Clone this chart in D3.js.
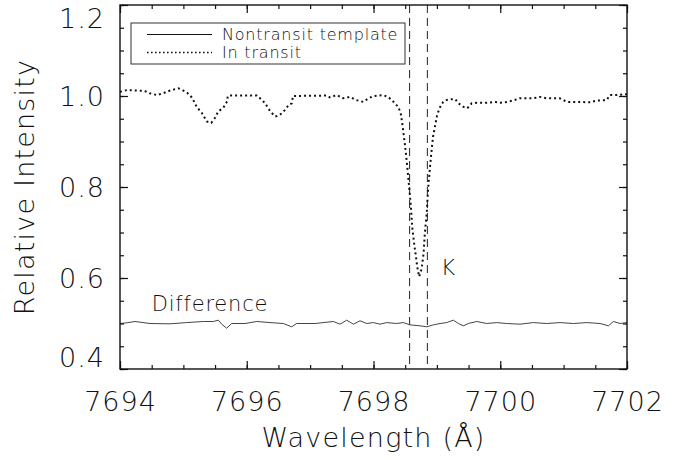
<!DOCTYPE html>
<html>
<head>
<meta charset="utf-8">
<script src="https://cdn.jsdelivr.net/npm/d3@7"></script>
<style>
  body { margin: 0; background: #fff; }
  text { font-family: 'DejaVu Sans', 'Inter', sans-serif; font-weight: 200; fill: #111; }
</style>
</head>
<body>
<div class="chart"></div>
<script>
var w = 685,
  h = 460,
  margin = { left: 120, right: 58, top: 5, bottom: 91 };

// in-transit spectrum
var transitWave = [7694.00, 7694.11, 7694.26, 7694.39, 7694.47, 7694.58, 7694.68, 7694.79, 7694.92, 7695.00,
  7695.06, 7695.14, 7695.21, 7695.29, 7695.37, 7695.44, 7695.50, 7695.55, 7695.63, 7695.69,
  7695.70, 7695.74, 7696.00, 7696.16, 7696.21, 7696.29, 7696.37, 7696.45, 7696.52, 7696.60,
  7696.66, 7696.71, 7696.73, 7697.27, 7697.31, 7697.42, 7697.52, 7697.63, 7697.73, 7697.84,
  7697.92, 7698.00, 7698.15, 7698.23, 7698.29, 7698.39, 7698.43, 7698.46, 7698.48, 7698.50,
  7698.53, 7698.56, 7698.59, 7698.61, 7698.64, 7698.67, 7698.69, 7698.72, 7698.76, 7698.79,
  7698.81, 7698.84, 7698.86, 7698.89, 7698.92, 7698.94, 7698.97, 7699.00, 7699.04, 7699.10,
  7699.15, 7699.23, 7699.29, 7699.34, 7699.42, 7699.48, 7699.55, 7699.63, 7699.79, 7699.92,
  7700.00, 7700.10, 7700.20, 7700.31, 7700.52, 7700.63, 7700.73, 7700.94, 7701.05, 7701.26,
  7701.42, 7701.52, 7701.68, 7701.73, 7701.84, 7701.97, 7702.00];
var transitFlux = [1.009, 1.013, 1.012, 1.011, 1.006, 1.002, 1.006, 1.012, 1.017, 1.012,
  1.007, 0.996, 0.976, 0.963, 0.944, 0.941, 0.952, 0.966, 0.974, 0.988,
  1.000, 1.001, 1.001, 1.001, 0.995, 0.984, 0.966, 0.955, 0.958, 0.969,
  0.980, 0.984, 1.000, 1.001, 0.997, 1.002, 0.995, 0.998, 0.991, 0.987,
  0.995, 1.000, 1.002, 0.998, 0.991, 0.976, 0.962, 0.933, 0.911, 0.889,
  0.848, 0.804, 0.757, 0.713, 0.677, 0.647, 0.625, 0.603, 0.621, 0.654,
  0.698, 0.742, 0.793, 0.842, 0.885, 0.911, 0.933, 0.955, 0.973, 0.987,
  0.991, 0.993, 0.993, 0.984, 0.976, 0.973, 0.984, 0.985, 0.985, 0.987,
  0.985, 0.987, 0.990, 0.995, 0.995, 0.998, 0.995, 0.995, 0.987, 0.987,
  0.986, 0.990, 0.991, 1.002, 1.002, 1.004, 1.004];

// difference spectrum (offset to 0.5)
var diffWave = [7694.000, 7694.105, 7694.237, 7694.473, 7694.789, 7695.052, 7695.315, 7695.473, 7695.552, 7695.604,
  7695.683, 7695.762, 7695.973, 7696.157, 7696.367, 7696.578, 7696.709, 7696.788, 7697.077, 7697.367,
  7697.472, 7697.577, 7697.682, 7697.787, 7697.893, 7697.998, 7698.103, 7698.208, 7698.366, 7698.471,
  7698.577, 7698.734, 7698.840, 7698.945, 7699.050, 7699.155, 7699.260, 7699.339, 7699.418, 7699.497,
  7699.629, 7699.786, 7699.944, 7700.102, 7700.312, 7700.523, 7700.733, 7700.944, 7701.154, 7701.365,
  7701.575, 7701.707, 7701.785, 7701.891, 7702.000];
var diffFlux = [0.5000, 0.5015, 0.5044, 0.5000, 0.4993, 0.5020, 0.5044, 0.5044, 0.5073, 0.4985,
  0.4897, 0.5000, 0.5000, 0.5044, 0.5020, 0.5000, 0.4927, 0.5000, 0.5000, 0.5044,
  0.4985, 0.5073, 0.4985, 0.5059, 0.5000, 0.5020, 0.4985, 0.5020, 0.5000, 0.5020,
  0.4970, 0.4949, 0.4927, 0.4970, 0.5000, 0.5020, 0.5073, 0.5000, 0.4949, 0.5000,
  0.5044, 0.5000, 0.5020, 0.5000, 0.4985, 0.5020, 0.5000, 0.5020, 0.5000, 0.5020,
  0.5000, 0.4949, 0.5044, 0.5000, 0.5020];

var kLines = [7698.57, 7698.85];
var xMajor = [7694, 7696, 7698, 7700, 7702];
var yMajor = [0.4, 0.6, 0.8, 1.0, 1.2];
var legendLabels = ['Nontransit template', 'In transit'];

var x = d3.scaleLinear().domain([7694, 7702]).range([margin.left, w - margin.right]);
var y = d3.scaleLinear().domain([0.4, 1.2]).range([h - margin.bottom, margin.top]);

var svg = d3.select('.chart')
  .append('svg')
  .attr('width', w)
  .attr('height', h);

var xMinor = d3.range(7694, 7702.01, 0.5);
var yMinor = d3.range(0.4, 1.2001, 0.05);

var drawAxes = function () {
  var bottom = h - margin.bottom, right = w - margin.right;

  svg.append('g').attr('class', 'ax').attr('transform', 'translate(0,' + bottom + ')')
    .call(d3.axisBottom(x).tickValues(xMinor).tickSize(-4).tickFormat(''));
  svg.append('g').attr('class', 'ax').attr('transform', 'translate(0,' + bottom + ')')
    .call(d3.axisBottom(x).tickValues(xMajor).tickSize(-8).tickPadding(23).tickFormat(d3.format('d')));
  svg.append('g').attr('class', 'ax').attr('transform', 'translate(0,' + margin.top + ')')
    .call(d3.axisTop(x).tickValues(xMinor).tickSize(-4).tickFormat(''));
  svg.append('g').attr('class', 'ax').attr('transform', 'translate(0,' + margin.top + ')')
    .call(d3.axisTop(x).tickValues(xMajor).tickSize(-8).tickFormat(''));

  svg.append('g').attr('class', 'ax').attr('transform', 'translate(' + margin.left + ',0)')
    .call(d3.axisLeft(y).tickValues(yMinor).tickSize(-4).tickFormat(''));
  var yl = svg.append('g').attr('class', 'ax yl').attr('transform', 'translate(' + margin.left + ',0)')
    .call(d3.axisLeft(y).tickValues(yMajor).tickSize(-8).tickPadding(15).tickFormat(d3.format('.1f')));
  svg.append('g').attr('class', 'ax').attr('transform', 'translate(' + right + ',0)')
    .call(d3.axisRight(y).tickValues(yMinor).tickSize(-4).tickFormat(''));
  svg.append('g').attr('class', 'ax').attr('transform', 'translate(' + right + ',0)')
    .call(d3.axisRight(y).tickValues(yMajor).tickSize(-8).tickFormat(''));

  // end labels sit inside the frame in the original
  yl.selectAll('.tick text').attr('dy', function (d) {
    return d === 1.2 ? '0.85em' : (d === 0.4 ? '-0.1em' : '0.36em');
  });

  svg.selectAll('.ax .domain').remove();
  svg.selectAll('.ax line').attr('stroke', '#111').attr('stroke-width', 1.2);
  svg.selectAll('.ax text').style('font-size', '27px').style('letter-spacing', '1px').attr('fill', '#111');

  svg.append('rect')
    .attr('x', margin.left).attr('y', margin.top)
    .attr('width', right - margin.left).attr('height', bottom - margin.top)
    .attr('fill', 'none').attr('stroke', '#111').attr('stroke-width', 1.4);
}

var drawLines = function () {
  var line = d3.line()
    .x(function (d) { return x(d[0]); })
    .y(function (d) { return y(d[1]); });

  svg.selectAll('.kline')
    .data(kLines)
    .enter()
    .append('line')
    .attr('x1', function (d) { return x(d); })
    .attr('x2', function (d) { return x(d); })
    .attr('y1', margin.top)
    .attr('y2', h - margin.bottom)
    .attr('stroke', '#222')
    .attr('stroke-width', 1)
    .attr('stroke-dasharray', '8,5');

  svg.append('path')
    .datum(d3.zip(diffWave, diffFlux))
    .attr('d', line)
    .attr('fill', 'none')
    .attr('stroke', '#444')
    .attr('stroke-width', 1);

  svg.append('path')
    .datum(d3.zip(transitWave, transitFlux))
    .attr('d', line)
    .attr('fill', 'none')
    .attr('stroke', '#111')
    .attr('stroke-width', 2)
    .attr('stroke-dasharray', '2,3');
}

var drawLabels = function () {
  svg.append('text')
    .attr('x', (margin.left + w - margin.right) / 2)
    .attr('y', 447)
    .attr('text-anchor', 'middle')
    .style('font-size', '27px')
    .style('letter-spacing', '1.2px')
    .text('Wavelength (Å)');

  svg.append('text')
    .attr('transform', 'translate(34,' + (margin.top + h - margin.bottom) / 2 + ') rotate(-90)')
    .attr('text-anchor', 'middle')
    .style('font-size', '27px')
    .style('letter-spacing', '1.2px')
    .text('Relative Intensity');

  svg.append('text')
    .attr('x', x(7698.81) + 16)
    .attr('y', y(0.606))
    .style('font-size', '22px')
    .text('K');

  svg.append('text')
    .attr('x', x(7694.5))
    .attr('y', y(0.527))
    .style('font-size', '21px')
    .style('letter-spacing', '0.8px')
    .text('Difference');

  // legend
  var lg = svg.append('g');
  lg.append('rect')
    .attr('x', 131).attr('y', 23).attr('width', 274).attr('height', 41)
    .attr('fill', '#fff').attr('stroke', '#333').attr('stroke-width', 1);
  var rows = lg.selectAll('.row')
    .data(legendLabels)
    .enter()
    .append('g')
    .attr('transform', function (d, i) { return 'translate(0,' + (34.5 + i * 18) + ')'; });
  rows.append('line')
    .attr('x1', 147).attr('x2', 212)
    .attr('stroke', '#111')
    .attr('stroke-width', function (d, i) { return i === 0 ? 1 : 1.6; })
    .attr('stroke-dasharray', function (d, i) { return i === 0 ? null : '1.6,2.4'; });
  rows.append('text')
    .attr('x', 222).attr('dy', '0.36em')
    .style('font-size', '16px')
    .style('letter-spacing', '0.8px')
    .text(function (d) { return d; });
}

drawLines();
drawAxes();
drawLabels();
</script>
</body>
</html>
